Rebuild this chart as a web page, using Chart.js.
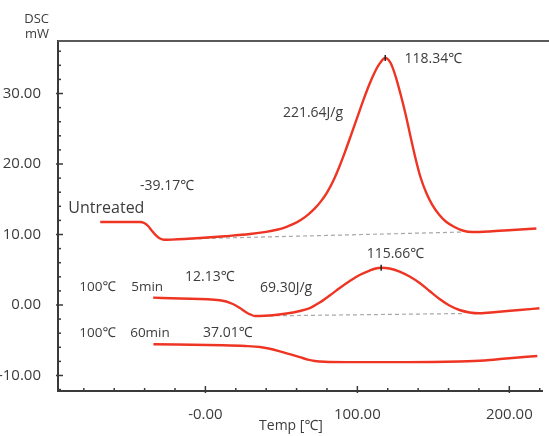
<!DOCTYPE html>
<html>
<head>
<meta charset="utf-8">
<script src="https://cdn.jsdelivr.net/npm/chart.js@4.4.1/dist/chart.umd.min.js"></script>
<style>
  body { margin: 0; background: #fff; }
  canvas { display: block; }
</style>
</head>
<body>
<canvas id="dscChart" width="549" height="436"></canvas>
<script>
// curves (Temp in C, heat flow in mW)
var untreatedTemp = [-69.2, -42.9, -40.3, -37.7, -35.1, -32.5, -29.9, -27.2, -21.9, -3.5, 12.9, 29.3, 40.0, 47.0, 53.0, 58.0, 63.0, 68.0, 72.0, 76.0, 80.0, 84.0, 88.0, 92.0, 96.0, 100.0, 104.0, 108.0, 111.5, 114.5, 118.34, 121.9, 125.1, 128.4, 131.7, 134.9, 138.2, 141.5, 145.4, 149.4, 154.0, 158.6, 163.9, 169.2, 175.8, 186.9, 202.0, 217.8];
var untreatedHeat = [11.77, 11.77, 11.63, 11.21, 10.50, 9.86, 9.43, 9.25, 9.28, 9.50, 9.76, 10.07, 10.38, 10.68, 11.06, 11.50, 12.10, 12.90, 13.70, 14.70, 15.95, 17.55, 19.55, 21.80, 24.20, 26.65, 29.10, 31.35, 33.05, 34.20, 35.04, 34.33, 32.48, 29.93, 27.09, 23.97, 20.85, 18.16, 15.89, 14.18, 12.77, 11.77, 11.06, 10.57, 10.35, 10.43, 10.64, 10.85];

var fiveMinTemp = [-34.4, -16.7, 9.6, 18.1, 22.7, 27.3, 29.9, 32.6, 39.1, 44.4, 52.3, 62.1, 68.7, 75.2, 81.8, 88.4, 95.0, 101.5, 108.1, 112.0, 115.66, 121.2, 127.8, 134.4, 141.0, 147.5, 154.1, 160.6, 167.2, 173.8, 180.4, 191.5, 206.6, 219.8];
var fiveMinHeat = [1.04, 0.92, 0.67, 0.14, -0.43, -1.09, -1.38, -1.56, -1.53, -1.46, -1.25, -0.85, -0.43, 0.35, 1.35, 2.41, 3.40, 4.26, 4.89, 5.18, 5.29, 5.18, 4.75, 4.04, 3.12, 1.99, 0.85, -0.07, -0.71, -1.06, -1.18, -0.99, -0.71, -0.47];

var sixtyMinTemp = [-34.2, 11.6, 26.0, 35.9, 42.4, 49.0, 55.5, 62.1, 67.4, 72.0, 78.5, 93.0, 132.4, 167.2, 183.6, 198.0, 218.4];
var sixtyMinHeat = [-5.57, -5.72, -5.82, -5.96, -6.21, -6.57, -6.98, -7.40, -7.74, -7.94, -8.06, -8.11, -8.11, -8.01, -7.87, -7.59, -7.23];

// peak integration baselines
var untreatedBaseTemp = [-27.9, 169.2];
var untreatedBaseHeat = [9.29, 10.35];
var fiveMinBaseTemp = [32.6, 170.5];
var fiveMinBaseHeat = [-1.56, -1.21];

// peak markers
var peakTemp = [118.34, 115.66];
var peakHeat = [35.04, 5.29];

// axis ticks
var xMajorTicks = [0, 100, 200];
var xMajorLabels = ['-0.00', '100.00', '200.00'];
var yMajorTicks = [-10, 0, 10, 20, 30];
var yMajorLabels = ['-10.00', '0.00', '10.00', '20.00', '30.00'];

// text on the plot
var notes = [
  { text: 'Untreated', x: -90.2, y: 13.76, size: 16 },
  { text: '-39.17\u2103', x: -43.0, y: 16.88, size: 14 },
  { text: '221.64J/g', x: 51.0, y: 27.2, size: 14 },
  { text: '118.34\u2103', x: 131.0, y: 34.9, size: 14 },
  { text: '100\u2103', x: -83.0, y: 2.55, size: 13.5 },
  { text: '5min', x: -48.8, y: 2.55, size: 13.5 },
  { text: '12.13\u2103', x: -13.4, y: 3.97, size: 14 },
  { text: '69.30J/g', x: 35.9, y: 2.37, size: 14 },
  { text: '115.66\u2103', x: 106.1, y: 7.19, size: 14 },
  { text: '100\u2103', x: -83.0, y: -4.01, size: 13.5 },
  { text: '60min', x: -49.5, y: -4.01, size: 13.5 },
  { text: '37.01\u2103', x: -1.6, y: -3.93, size: 14 }
];

function toPoints(xs, ys) {
  var pts = [];
  for (var i = 0; i < xs.length; i++) {
    pts.push({ x: xs[i], y: ys[i] });
  }
  return pts;
}

var FONT = '"Open Sans", "Noto Sans", sans-serif';
var RED = '#ee3524';
var AXIS = '#3a3a3a';
var TEXT = '#3c3c3c';

function curve(xs, ys) {
  return {
    data: toPoints(xs, ys),
    borderColor: RED,
    borderWidth: 2.4,
    pointRadius: 0,
    cubicInterpolationMode: 'monotone',
    order: 1
  };
}

function baseline(xs, ys) {
  return {
    data: toPoints(xs, ys),
    borderColor: '#a8a8a8',
    borderWidth: 1.2,
    borderDash: [4, 3],
    pointRadius: 0,
    order: 2
  };
}

var frameAndTicks = {
  id: 'frameAndTicks',
  afterDraw: function(chart) {
    var ctx = chart.ctx;
    var area = chart.chartArea;
    var xs = chart.scales.x;
    var ys = chart.scales.y;
    ctx.save();
    // top frame line
    ctx.strokeStyle = '#5a5a5a';
    ctx.lineWidth = 2;
    ctx.beginPath();
    ctx.moveTo(area.left, area.top);
    ctx.lineTo(chart.width, area.top);
    ctx.stroke();
    // tick marks, pointing inward
    ctx.strokeStyle = AXIS;
    ctx.lineWidth = 1.5;
    xs.ticks.forEach(function(t) {
      var px = xs.getPixelForValue(t.value);
      var major = xMajorTicks.indexOf(t.value) >= 0;
      ctx.beginPath();
      ctx.moveTo(px, area.bottom + (major ? 2 : 0));
      ctx.lineTo(px, area.bottom - (major ? 5 : 3));
      ctx.stroke();
    });
    ys.ticks.forEach(function(t) {
      var py = ys.getPixelForValue(t.value);
      var major = yMajorTicks.indexOf(t.value) >= 0;
      ctx.beginPath();
      ctx.moveTo(area.left - (major ? 2 : 0), py);
      ctx.lineTo(area.left + (major ? 5 : 3), py);
      ctx.stroke();
    });
    // axis titles
    ctx.fillStyle = TEXT;
    ctx.font = '13px ' + FONT;
    ctx.textAlign = 'right';
    ctx.textBaseline = 'middle';
    ctx.fillText('DSC', 49, 19);
    ctx.fillText('mW', 49, 34);
    ctx.textAlign = 'center';
    ctx.font = '14px ' + FONT;
    ctx.fillText('Temp [\u2103]', 291, 426);
    // notes
    ctx.textAlign = 'left';
    notes.forEach(function(n) {
      ctx.font = n.size + 'px ' + FONT;
      ctx.fillText(n.text, xs.getPixelForValue(n.x), ys.getPixelForValue(n.y));
    });
    ctx.restore();
  }
};

var ctx = document.getElementById('dscChart').getContext('2d');

var dscChart = new Chart(ctx, {
  type: 'line',
  data: {
    datasets: [
      curve(untreatedTemp, untreatedHeat),
      curve(fiveMinTemp, fiveMinHeat),
      curve(sixtyMinTemp, sixtyMinHeat),
      baseline(untreatedBaseTemp, untreatedBaseHeat),
      baseline(fiveMinBaseTemp, fiveMinBaseHeat),
      {
        data: toPoints(peakTemp, peakHeat),
        showLine: false,
        pointStyle: 'line',
        rotation: 90,
        pointRadius: 3,
        borderColor: '#222',
        borderWidth: 1.5,
        order: 0
      }
    ]
  },
  options: {
    responsive: false,
    animation: false,
    layout: { padding: { top: 41, right: 7, left: 0, bottom: 0 } },
    plugins: {
      legend: { display: false },
      tooltip: { enabled: false }
    },
    scales: {
      x: {
        type: 'linear',
        min: -97,
        max: 221.5,
        afterBuildTicks: function(scale) {
          var t = [];
          for (var v = -80; v <= 220; v += 20) t.push({ value: v });
          scale.ticks = t;
        },
        afterFit: function(scale) { scale.height = 45; },
        grid: { display: false },
        border: { display: true, color: AXIS, width: 2 },
        ticks: {
          autoSkip: false,
          maxRotation: 0,
          padding: 7,
          color: TEXT,
          font: { family: FONT, size: 15 },
          callback: function(value) {
            var i = xMajorTicks.indexOf(value);
            return i >= 0 ? xMajorLabels[i] : '';
          }
        }
      },
      y: {
        min: -12.2,
        max: 37.45,
        afterBuildTicks: function(scale) {
          var t = [];
          for (var v = -12; v <= 36; v += 2) t.push({ value: v });
          scale.ticks = t;
        },
        afterFit: function(scale) { scale.width = 58; },
        grid: { display: false },
        border: { display: true, color: AXIS, width: 2 },
        ticks: {
          autoSkip: false,
          padding: 9,
          color: TEXT,
          font: { family: FONT, size: 15 },
          callback: function(value) {
            var i = yMajorTicks.indexOf(value);
            return i >= 0 ? yMajorLabels[i] : '';
          }
        }
      }
    }
  },
  plugins: [frameAndTicks]
});
</script>
</body>
</html>
